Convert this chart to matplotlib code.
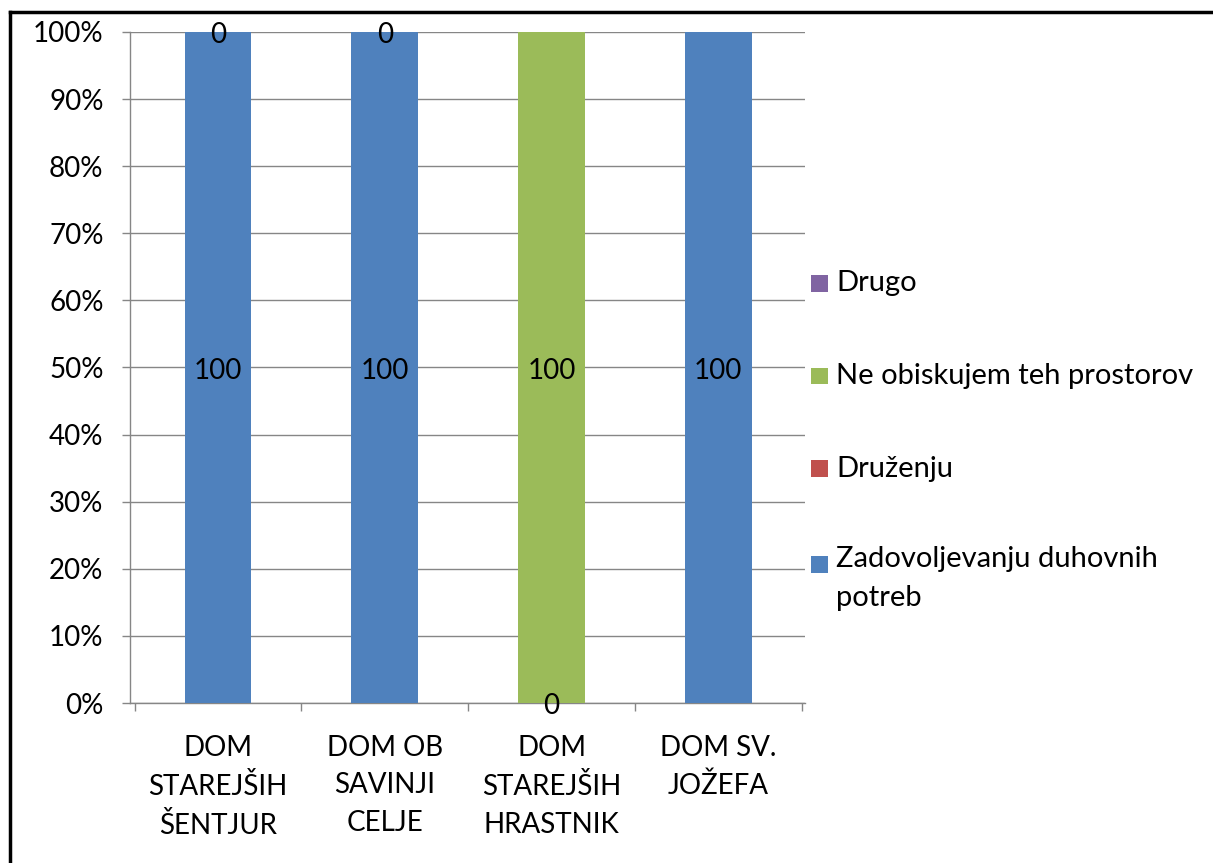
import numpy as np
import matplotlib
matplotlib.use("Agg")
import matplotlib.pyplot as plt
from matplotlib.patches import Rectangle
from matplotlib.lines import Line2D

categories = ["DOM\nSTAREJŠIH\nŠENTJUR", "DOM OB\nSAVINJI\nCELJE", "DOM\nSTAREJŠIH\nHRASTNIK", "DOM SV.\nJOŽEFA"]
series_names = ["Zadovoljevanju duhovnih potreb", "Druženju", "Ne obiskujem teh prostorov", "Drugo"]
legend_labels = ["Zadovoljevanju duhovnih\npotreb", "Druženju", "Ne obiskujem teh prostorov", "Drugo"]
zadovoljevanju = [100, 100, 0, 100]
druzenju = [0, 0, np.nan, np.nan]
ne_obiskujem = [np.nan, np.nan, 100, np.nan]
drugo = [np.nan, np.nan, np.nan, np.nan]
colors = ["#4F81BD", "#C0504D", "#9BBB59", "#8064A2"]
yticks = [0, 10, 20, 30, 40, 50, 60, 70, 80, 90, 100]

plt.rcParams['font.family'] = ['Lato', 'DejaVu Sans']
FS = 20
LFS = 21

W, H = 1213, 863
fig = plt.figure(figsize=(W / 100, H / 100), dpi=100)
ax = fig.add_axes([130 / W, 1 - 703 / H, (805 - 130) / W, (703 - 32) / H])

data = np.array([zadovoljevanju, druzenju, ne_obiskujem, drugo], dtype=float)
totals = np.nansum(data, axis=0)
pct = data / totals * 100
x = np.arange(len(categories))
bottom = np.zeros(len(categories))
for i, name in enumerate(series_names):
    vals = pct[i]
    h = np.nan_to_num(vals)
    bars = ax.bar(x, h, bottom=bottom, width=0.4, color=colors[i], label=name, zorder=3)
    labels = ["" if np.isnan(v) else f"{data[i][j]:g}" for j, v in enumerate(vals)]
    anns = ax.bar_label(bars, labels=labels, label_type="center", fontsize=FS, color="black", zorder=4)
    for a in anns:
        a.xyann = (0, -2.5)
    bottom += h

ax.set_xlim(-0.528, len(categories) - 0.48)
ax.set_ylim(0, 100)
ax.set_yticks(yticks)
ax.set_yticklabels([f"{v}%" for v in yticks], fontsize=FS)
ax.set_xticks(x)
ax.set_xticklabels(categories, fontsize=FS, linespacing=1.55)
ax.set_xticks(np.arange(len(categories) + 1) - 0.5, minor=True)
ax.tick_params(axis="x", which="major", length=0, pad=23)
ax.tick_params(axis="x", which="minor", length=6, color="#868686", width=1)
ax.tick_params(axis="y", length=6, color="#868686", width=1, pad=13)
ax.yaxis.grid(True, color="#868686", linewidth=1, zorder=0)
for s in ["top", "right"]:
    ax.spines[s].set_visible(False)
for s in ["left", "bottom"]:
    ax.spines[s].set_color("#868686")
    ax.spines[s].set_linewidth(1)

# legend (manual, reversed order: Drugo on top)
ys = [564, 469, 376, 283]
for i in range(len(series_names)):
    yc = ys[i]
    fig.add_artist(Rectangle((811 / W, 1 - (yc + 8.5) / H), 17 / W, 17 / H, transform=fig.transFigure,
                             facecolor=colors[i], edgecolor="none"))
    if "\n" in legend_labels[i]:
        fig.text(836 / W, 1 - (yc - 18) / H, legend_labels[i], fontsize=LFS, va="top", ha="left",
                 linespacing=1.6)
    else:
        fig.text(836 / W, 1 - yc / H, legend_labels[i], fontsize=LFS, va="center", ha="left")

# outer border (top and left)
fig.add_artist(Line2D([10 / W, 1.0], [1 - 12 / H, 1 - 12 / H], transform=fig.transFigure, color="black", linewidth=2.5))
fig.add_artist(Line2D([10 / W, 10 / W], [1 - 12 / H, 0], transform=fig.transFigure, color="black", linewidth=2.5))

fig.savefig("out.png", dpi=100)
